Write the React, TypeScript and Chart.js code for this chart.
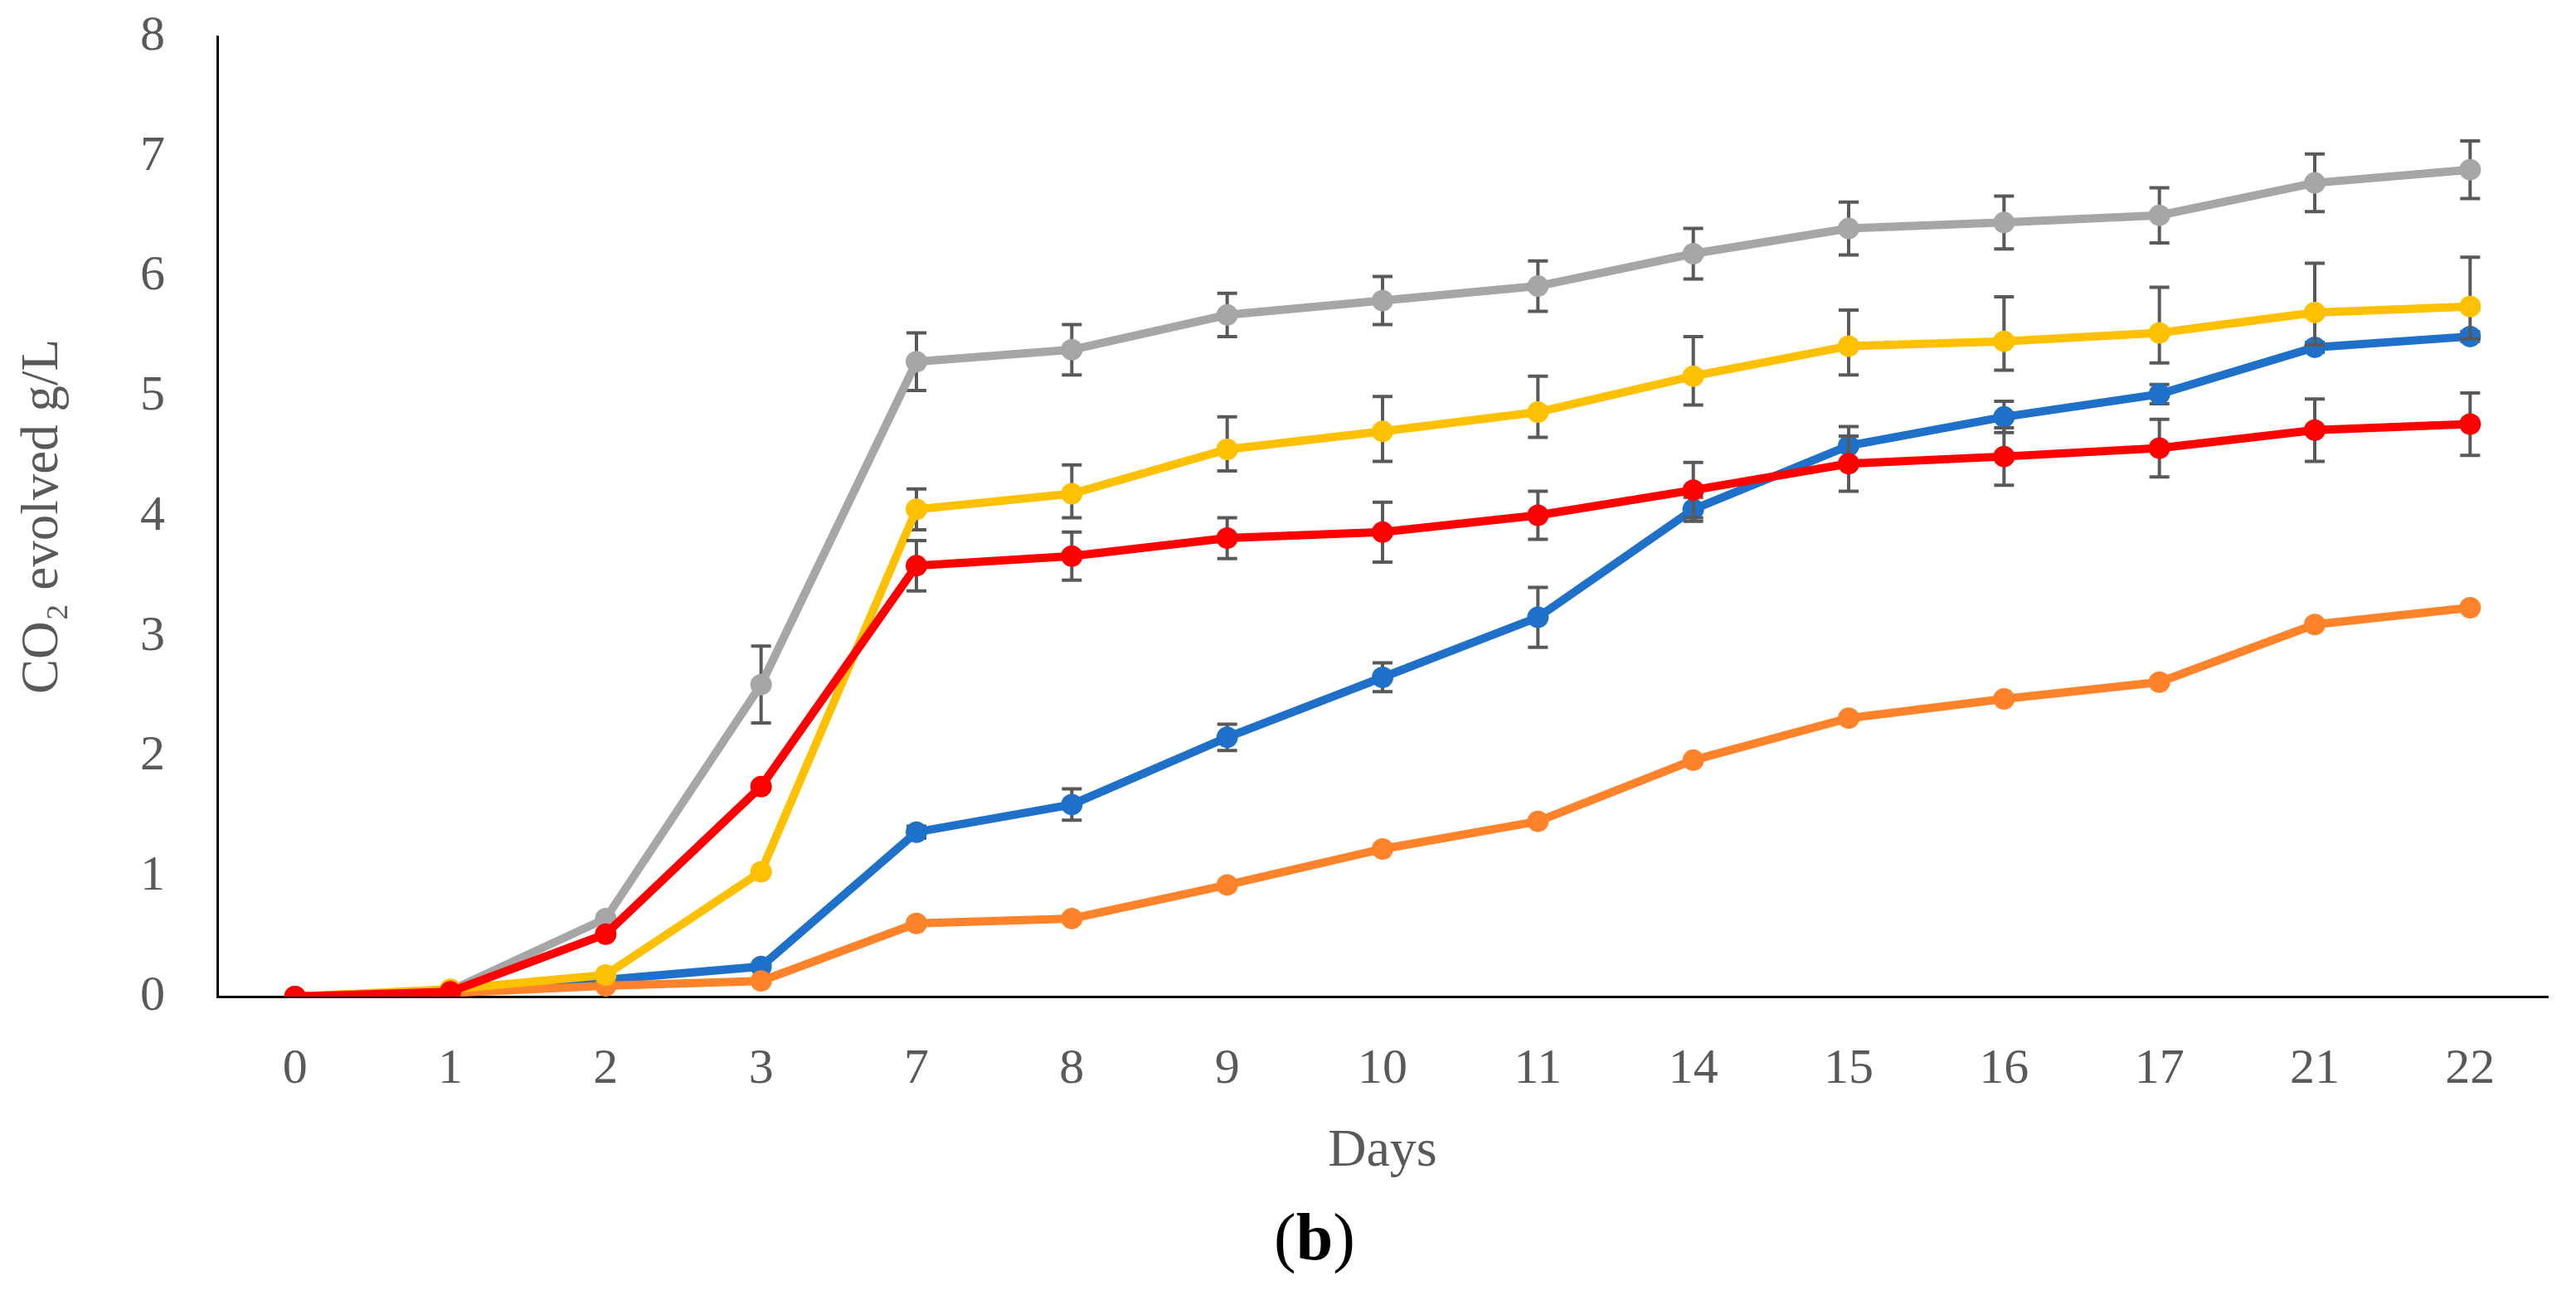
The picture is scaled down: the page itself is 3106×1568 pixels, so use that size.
import { useEffect, useRef } from 'react';
import { Chart, registerables } from 'chart.js';

Chart.register(...registerables);

// x categories (days)
const days = ['0', '1', '2', '3', '7', '8', '9', '10', '11', '14', '15', '16', '17', '21', '22'];

// series values (g/L)
const blueValues = [0, 0.03, 0.14, 0.25, 1.37, 1.6, 2.16, 2.66, 3.16, 4.06, 4.59, 4.83, 5.02, 5.41, 5.5];
const orangeValues = [0, 0.03, 0.09, 0.13, 0.61, 0.65, 0.93, 1.23, 1.46, 1.97, 2.32, 2.48, 2.62, 3.1, 3.24];
const grayValues = [0, 0.05, 0.65, 2.6, 5.29, 5.39, 5.68, 5.8, 5.92, 6.19, 6.4, 6.45, 6.51, 6.78, 6.89];
const yellowValues = [0, 0.06, 0.18, 1.04, 4.06, 4.19, 4.56, 4.71, 4.87, 5.17, 5.42, 5.46, 5.53, 5.7, 5.75];
const redValues = [0, 0.04, 0.52, 1.75, 3.59, 3.67, 3.82, 3.87, 4.01, 4.22, 4.44, 4.5, 4.57, 4.72, 4.77];

// error bars (0 = none)
const blueErr = [0, 0, 0, 0, 0.05, 0.13, 0.11, 0.12, 0.25, 0.1, 0.16, 0.13, 0.08, 0.04, 0.04];
const grayErr = [0, 0, 0, 0.32, 0.24, 0.21, 0.18, 0.2, 0.21, 0.21, 0.22, 0.22, 0.23, 0.24, 0.24];
const yellowErrUp = [0, 0, 0, 0, 0.17, 0.24, 0.27, 0.29, 0.3, 0.33, 0.3, 0.37, 0.38, 0.41, 0.41];
const yellowErrDown = [0, 0, 0, 0, 0.17, 0.2, 0.18, 0.25, 0.21, 0.24, 0.24, 0.24, 0.25, 0.27, 0.27];
const redErr = [0, 0, 0, 0, 0.21, 0.2, 0.17, 0.25, 0.2, 0.23, 0.23, 0.24, 0.24, 0.26, 0.26];

const FONT = '"Liberation Serif", "Times New Roman", serif';
const TEXT = '#595959';

// draws each series' error bars just before the series itself
const errorBarPlugin = {
  id: 'errorBars',
  beforeDatasetDraw(chart: any, args: any) {
    const ds = chart.data.datasets[args.index];
    const up: number[] | undefined = ds.errUp;
    const down: number[] | undefined = ds.errDown;
    if (!up || !down) return;
    const yScale = chart.scales.y;
    const ctx = chart.ctx;
    ctx.save();
    ctx.strokeStyle = TEXT;
    ctx.lineWidth = 4;
    args.meta.data.forEach((pt: any, i: number) => {
      if (!up[i] && !down[i]) return;
      const v = ds.data[i];
      const top = yScale.getPixelForValue(v + up[i]);
      const bot = yScale.getPixelForValue(v - down[i]);
      ctx.beginPath();
      ctx.moveTo(pt.x, top);
      ctx.lineTo(pt.x, bot);
      ctx.moveTo(pt.x - 12, top);
      ctx.lineTo(pt.x + 12, top);
      ctx.moveTo(pt.x - 12, bot);
      ctx.lineTo(pt.x + 12, bot);
      ctx.stroke();
    });
    ctx.restore();
  },
};

function line(label: string, data: number[], color: string, order: number, errUp?: number[], errDown?: number[]) {
  return {
    label,
    data,
    borderColor: color,
    backgroundColor: color,
    borderWidth: 10,
    pointRadius: 13,
    pointBorderWidth: 0,
    pointBackgroundColor: color,
    tension: 0,
    order,
    errUp,
    errDown,
  };
}

export default function App() {
  const chartRef = useRef<HTMLCanvasElement>(null);
  const chartInstance = useRef<Chart | null>(null);

  useEffect(() => {
    document.body.style.margin = '0';
    if (!chartRef.current) return;
    const ctx = chartRef.current.getContext('2d');
    if (!ctx) return;

    chartInstance.current = new Chart(ctx, {
      type: 'line',
      data: {
        labels: days,
        datasets: [
          line('Blue', blueValues, '#1F70C8', 4, blueErr, blueErr),
          line('Orange', orangeValues, '#FF832B', 3),
          line('Gray', grayValues, '#A6A6A6', 2, grayErr, grayErr),
          line('Yellow', yellowValues, '#FFC000', 1, yellowErrUp, yellowErrDown),
          line('Red', redValues, '#FF0000', 0, redErr, redErr),
        ] as any,
      },
      options: {
        responsive: false,
        animation: false,
        layout: { padding: { top: 44, right: 34, bottom: 0, left: 0 } },
        plugins: {
          legend: { display: false },
          tooltip: { enabled: false },
        },
        scales: {
          x: {
            type: 'category',
            offset: true,
            grid: { display: false, drawTicks: false },
            border: { display: true, color: '#000000', width: 3 },
            ticks: { color: TEXT, font: { family: FONT, size: 60 }, padding: 52, maxRotation: 0 },
            title: {
              display: true,
              text: 'Days',
              color: TEXT,
              font: { family: FONT, size: 64 },
              padding: { top: 0, bottom: 140 },
            },
            afterFit: (scale: any) => {
              scale.height = 366;
              scale.paddingLeft = 0;
              scale.paddingRight = 0;
            },
          },
          y: {
            min: 0,
            max: 8,
            grid: { display: false, drawTicks: false },
            border: { display: true, color: '#000000', width: 3 },
            ticks: { stepSize: 1, color: TEXT, font: { family: FONT, size: 60 }, padding: 63 },
            title: {
              display: true,
              text: 'CO₂ evolved g/L',
              color: TEXT,
              font: { family: FONT, size: 63 },
              padding: { top: 15, bottom: 0 },
            },
            afterFit: (scale: any) => {
              scale.width = 262;
              // keep tick padding from pushing the plot area down
              scale.paddingTop = 0;
              scale.paddingBottom = 0;
            },
          },
        },
      },
      plugins: [errorBarPlugin],
    });

    return () => {
      if (chartInstance.current) {
        chartInstance.current.destroy();
        chartInstance.current = null;
      }
    };
  }, []);

  return (
    <div style={{ position: 'relative', width: 3106, height: 1568, background: '#fff', overflow: 'hidden' }}>
      <canvas ref={chartRef} width={3106} height={1568} style={{ display: 'block' }}></canvas>
      <div
        style={{
          position: 'absolute',
          left: 1385,
          top: 1452,
          width: 400,
          textAlign: 'center',
          fontFamily: FONT,
          fontSize: 80,
          lineHeight: 1,
          color: '#000',
        }}
      >
        (<b>b</b>)
      </div>
    </div>
  );
}
